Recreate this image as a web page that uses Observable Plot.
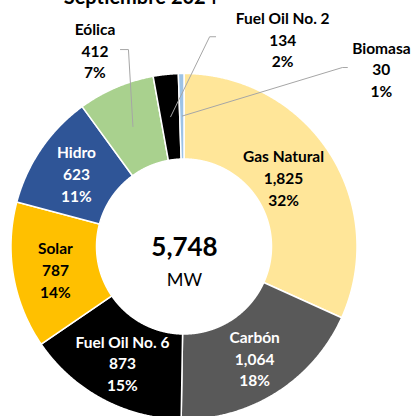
<!DOCTYPE html>
<html><head><meta charset="utf-8">
<script src="https://cdn.jsdelivr.net/npm/d3@7"></script>
<script src="https://cdn.jsdelivr.net/npm/@observablehq/plot@0.6"></script>
<style>html,body{margin:0;padding:0;background:#fff;overflow:hidden}</style>
</head><body><div id="chart"></div>
<script>
// ---- data ----
const categories = ["Gas Natural", "Carbón", "Fuel Oil No. 6", "Solar", "Hidro", "Eólica", "Fuel Oil No. 2", "Biomasa"];
const capacityMW = [1825, 1064, 873, 787, 623, 412, 134, 30];
const sharePct = [32, 18, 15, 14, 11, 7, 2, 1];
const sliceColors = ["#FFE699", "#595959", "#000000", "#FFC000", "#2F5597", "#A9D18E", "#000000", "#9DC3E6"];
const titleText = "Septiembre 2024";
const unitText = "MW";
const whiteLabelCats = ["Carbón", "Fuel Oil No. 6", "Hidro"];

// ---- layout ----
const W = 413, H = 416, cx = 184, cy = 246.5, R = 173, r0 = 87.5, rLabel = 131;
// outside callouts: offsets (px, y up) relative to slice centroid
const callouts = {
  "Eólica": {label: [-38, 77], elbow: [-4.5, 77], end: [-12.5, 77]},
  "Fuel Oil No. 2": {label: [112, 78], elbow: [39, 80], end: [45, 80]},
  "Biomasa": {label: [199, 47.5], elbow: [160, 48.5], end: [165, 48.5]}
};
// small nudges of inside labels (px, y up)
const nudges = {"Gas Natural": [-11, -1]};

const rows = categories.map((c, i) => ({category: c, value: capacityMW[i], share: sharePct[i]}));
const arcs = d3.pie().sort(null).value(d => d.value)(rows);
const fmt = d3.format(",");

const arcPts = arcs.flatMap(a => {
  const n = Math.max(2, Math.ceil((a.endAngle - a.startAngle) / 0.005));
  return d3.range(n + 1).map(k => {
    const t = a.startAngle + (a.endAngle - a.startAngle) * k / n;
    return {category: a.data.category,
      xo: R * Math.sin(t), yo: R * Math.cos(t),
      xi: r0 * Math.sin(t), yi: r0 * Math.cos(t)};
  });
});

const labels = arcs.map(a => {
  const m = (a.startAngle + a.endAngle) / 2;
  const px = rLabel * Math.sin(m), py = rLabel * Math.cos(m);
  const co = callouts[a.data.category];
  const nu = nudges[a.data.category] || [0, 0];
  return {
    category: a.data.category,
    cx: px, cy: py,
    x: co ? px + co.label[0] : px + nu[0],
    y: co ? py + co.label[1] : py + nu[1],
    text: `${a.data.category}\n${fmt(a.data.value)}\n${a.data.share}%`,
    white: whiteLabelCats.includes(a.data.category)
  };
});

const leaders = labels.filter(l => callouts[l.category]).flatMap(l => {
  const co = callouts[l.category];
  return [
    {category: l.category, x: l.cx, y: l.cy},
    {category: l.category, x: l.cx + co.elbow[0], y: l.cy + co.elbow[1]},
    {category: l.category, x: l.cx + co.end[0], y: l.cy + co.end[1]}
  ];
});

const total = d3.sum(capacityMW);

const chart = Plot.plot({
  width: W, height: H, margin: 0,
  x: {domain: [-cx, W - cx], axis: null},
  y: {domain: [cy - H, cy], axis: null},
  color: {domain: categories, range: sliceColors},
  style: {fontFamily: "Lato, 'Open Sans', sans-serif", background: "white"},
  marks: [
    Plot.area(arcPts, {x1: "xo", y1: "yo", x2: "xi", y2: "yi", z: "category", fill: "category", stroke: "white", strokeWidth: 1.5}),
    Plot.line(leaders, {x: "x", y: "y", z: "category", stroke: "#A6A6A6", strokeWidth: 1}),
    Plot.text(labels.filter(d => !d.white), {x: "x", y: "y", text: "text", fill: "black", fontSize: 15.5, fontWeight: "bold", lineHeight: 1.4}),
    Plot.text(labels.filter(d => d.white), {x: "x", y: "y", text: "text", fill: "white", fontSize: 15.5, fontWeight: "bold", lineHeight: 1.4}),
    Plot.text([fmt(total)], {x: 0, y: -1, text: d => d, fontSize: 26, fontWeight: "bold", fill: "black"}),
    Plot.text([unitText], {x: 0, y: -33, text: d => d, fontSize: 18, fill: "black"}),
    Plot.text([titleText], {x: 140 - cx, y: cy + 3.4, text: d => d, fontSize: 20, fontWeight: "bold", fill: "black"})
  ]
});
document.getElementById("chart").append(chart);
</script>
</body></html>
